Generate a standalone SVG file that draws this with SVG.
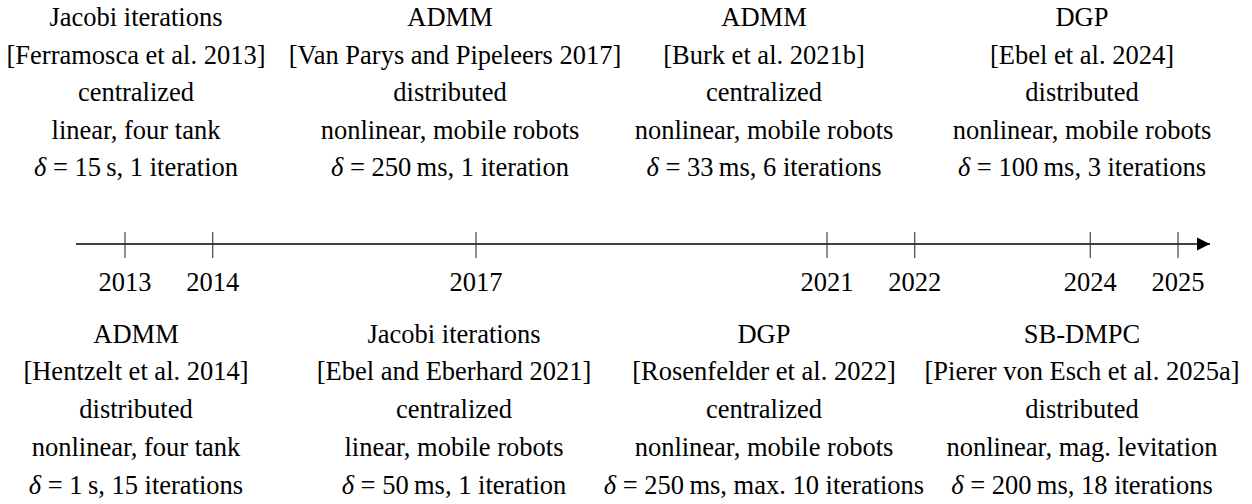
<svg xmlns="http://www.w3.org/2000/svg" width="1252" height="504" viewBox="0 0 1252 504">
  <style>
    text { font-family: "Liberation Serif", "Times New Roman", serif; font-size: 26.5px; fill: #000; text-anchor: middle; }
    .m { font-style: italic; }
    .axis { stroke: #000; stroke-width: 1.6; fill: none; }
    .tick { stroke: #333; stroke-width: 1.1; }
  </style>
  <defs>
    <marker id="arrow" markerUnits="userSpaceOnUse" markerWidth="14" markerHeight="14" viewBox="0 0 14 14" refX="13.5" refY="7" orient="auto">
      <path d="M0,0.3 L13.5,7 L0,13.7 Z" fill="#000"/>
    </marker>
  </defs>
  <rect width="1252" height="504" fill="#fff"/>

  <!-- time axis with yearly ticks (87.75 px per year) -->
  <g id="connectors">
    <line class="axis" x1="76" y1="244" x2="1210" y2="244" marker-end="url(#arrow)"/>
    <line class="tick" x1="125" y1="232" x2="125" y2="258"/>
    <line class="tick" x1="212.75" y1="232" x2="212.75" y2="258"/>
    <line class="tick" x1="476" y1="232" x2="476" y2="258"/>
    <line class="tick" x1="827" y1="232" x2="827" y2="258"/>
    <line class="tick" x1="914.75" y1="232" x2="914.75" y2="258"/>
    <line class="tick" x1="1090.25" y1="232" x2="1090.25" y2="258"/>
    <line class="tick" x1="1178" y1="232" x2="1178" y2="258"/>
  </g>

  <g id="years">
    <text x="125" y="291">2013</text>
    <text x="212.75" y="291">2014</text>
    <text x="476" y="291">2017</text>
    <text x="827" y="291">2021</text>
    <text x="914.75" y="291">2022</text>
    <text x="1090.25" y="291">2024</text>
    <text x="1178" y="291">2025</text>
  </g>

  <!-- entries above the axis -->
  <g id="ferramosca2013">
    <text x="136" y="26">Jacobi iterations</text>
    <text x="136" y="63.5">[Ferramosca et al. 2013]</text>
    <text x="136" y="101">centralized</text>
    <text x="136" y="138.5">linear, four tank</text>
    <text x="136" y="176"><tspan class="m">δ</tspan> = 15&#8201;s, 1 iteration</text>
  </g>
  <g id="vanparys2017">
    <text x="450" y="26">ADMM</text>
    <text x="455" y="63.5">[Van Parys and Pipeleers 2017]</text>
    <text x="450" y="101">distributed</text>
    <text x="450" y="138.5">nonlinear, mobile robots</text>
    <text x="450" y="176"><tspan class="m">δ</tspan> = 250&#8201;ms, 1 iteration</text>
  </g>
  <g id="burk2021b">
    <text x="764" y="26">ADMM</text>
    <text x="764" y="63.5">[Burk et al. 2021b]</text>
    <text x="764" y="101">centralized</text>
    <text x="764" y="138.5">nonlinear, mobile robots</text>
    <text x="764" y="176"><tspan class="m">δ</tspan> = 33&#8201;ms, 6 iterations</text>
  </g>
  <g id="ebel2024">
    <text x="1082" y="26">DGP</text>
    <text x="1082" y="63.5">[Ebel et al. 2024]</text>
    <text x="1082" y="101">distributed</text>
    <text x="1082" y="138.5">nonlinear, mobile robots</text>
    <text x="1082" y="176"><tspan class="m">δ</tspan> = 100&#8201;ms, 3 iterations</text>
  </g>

  <!-- entries below the axis -->
  <g id="hentzelt2014">
    <text x="136" y="342.5">ADMM</text>
    <text x="136" y="380.4">[Hentzelt et al. 2014]</text>
    <text x="136" y="418.3">distributed</text>
    <text x="136" y="456.2">nonlinear, four tank</text>
    <text x="136" y="494.1"><tspan class="m">δ</tspan> = 1&#8201;s, 15 iterations</text>
  </g>
  <g id="ebel2021">
    <text x="454" y="342.5">Jacobi iterations</text>
    <text x="454" y="380.4">[Ebel and Eberhard 2021]</text>
    <text x="454" y="418.3">centralized</text>
    <text x="454" y="456.2">linear, mobile robots</text>
    <text x="454" y="494.1"><tspan class="m">δ</tspan> = 50&#8201;ms, 1 iteration</text>
  </g>
  <g id="rosenfelder2022">
    <text x="764" y="342.5">DGP</text>
    <text x="764" y="380.4">[Rosenfelder et al. 2022]</text>
    <text x="764" y="418.3">centralized</text>
    <text x="764" y="456.2">nonlinear, mobile robots</text>
    <text x="764" y="494.1"><tspan class="m">δ</tspan> = 250&#8201;ms, max. 10 iterations</text>
  </g>
  <g id="piererVonEsch2025a">
    <text x="1082" y="342.5">SB-DMPC</text>
    <text x="1082" y="380.4">[Pierer von Esch et al. 2025a]</text>
    <text x="1082" y="418.3">distributed</text>
    <text x="1082" y="456.2">nonlinear, mag. levitation</text>
    <text x="1082" y="494.1"><tspan class="m">δ</tspan> = 200&#8201;ms, 18 iterations</text>
  </g>
</svg>
